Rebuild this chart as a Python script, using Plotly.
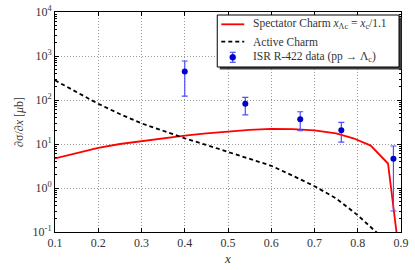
import plotly.graph_objects as go

# Spectator charm curve
spec_x = [0.1, 0.15, 0.2, 0.25, 0.3, 0.35, 0.4, 0.45, 0.5, 0.55, 0.6, 0.65, 0.7, 0.75, 0.79, 0.83, 0.87, 0.8915]
spec_y = [4.7, 6.3, 8.2, 10.0, 11.7, 13.5, 15.5, 17.5, 19.5, 21.0, 22.0, 21.8, 20.5, 17.5, 13.5, 9.2, 3.6, 0.07]

# Active charm curve
act_x = [0.1, 0.15, 0.2, 0.25, 0.3, 0.35, 0.4, 0.45, 0.5, 0.55, 0.6, 0.65, 0.7, 0.75, 0.8, 0.845]
act_y = [280, 150, 82, 48, 29.5, 20, 13.5, 9.5, 6.7, 4.6, 3.2, 1.9, 1.1, 0.58, 0.24, 0.095]

# ISR R-422 data
data_x = [0.4, 0.54, 0.667, 0.762, 0.8825]
data_y = [445, 82, 36.5, 20.5, 4.6]
data_hi = [770, 115, 54, 31, 9.0]
data_lo = [123, 46, 20, 11, 0.3]

x_ticks = [0.1, 0.2, 0.3, 0.4, 0.5, 0.6, 0.7, 0.8, 0.9]
y_exps = [-1, 0, 1, 2, 3, 4]

legend_names = [
    "Spectator Charm <i>x</i><sub>Λc</sub> = <i>x</i><sub>c</sub>/1.1",
    "Active Charm",
    "ISR R-422 data (pp → Λ<sub>c</sub>)",
]

err_plus = [h - v for h, v in zip(data_hi, data_y)]
err_minus = [v - l for l, v in zip(data_lo, data_y)]

font = "Liberation Serif, DejaVu Serif, serif"
RED, BLACK, BLUE, EBLUE = "#ff0000", "black", "#0000cc", "#4d4dff"

W, H = 415, 270
ML, MR, MT, MB = 54.5, 14, 12, 38
PW, PH = W - ML - MR, H - MT - MB


def px_x(px):
    return (px - ML) / PW


def px_y(py):
    return 1 - (py - MT) / PH


fig = go.Figure()
fig.add_trace(go.Scatter(
    x=spec_x, y=spec_y, mode="lines",
    line=dict(color=RED, width=1.8), name=legend_names[0], showlegend=False))
fig.add_trace(go.Scatter(
    x=act_x, y=act_y, mode="lines",
    line=dict(color=BLACK, width=1.8, dash="4px,3px"), name=legend_names[1], showlegend=False))
fig.add_trace(go.Scatter(
    x=data_x, y=data_y, mode="markers",
    marker=dict(color=BLUE, size=6),
    error_y=dict(type="data", symmetric=False, array=err_plus, arrayminus=err_minus,
                 color=EBLUE, thickness=1.2, width=3),
    name=legend_names[2], showlegend=False))

axis_common = dict(
    showline=True, linecolor="black", linewidth=1, mirror="ticks",
    ticks="inside", ticklen=4, tickcolor="black",
    showgrid=True, gridcolor="#9a9a9a", griddash="1px,2px", gridwidth=1,
    zeroline=False, automargin=False,
    tickfont=dict(family=font, size=12, color="#333333"),
)

fig.update_xaxes(
    range=[0.1, 0.9], tickvals=x_ticks, ticktext=[f"{v:.1f}" for v in x_ticks],
    title=dict(text="<i>x</i>", font=dict(family=font, size=13, color="#333333"), standoff=4),
    **axis_common)
fig.update_yaxes(
    type="log", range=[-1, 4],
    tickvals=[10.0 ** e for e in y_exps],
    ticktext=[f"10<sup>{e}</sup>" for e in y_exps],
    minor=dict(ticks="inside", ticklen=2, tickcolor="black", dtick="D1", showgrid=False),
    title=dict(text="∂σ/∂<i>x</i> [<i>μ</i>b]", font=dict(family=font, size=12, color="#333333"), standoff=6),
    **axis_common)

# ---- legend box (shadow + frame) ----
fig.add_shape(type="rect", xref="paper", yref="paper",
              x0=px_x(219.5), x1=px_x(401.5), y0=px_y(69.5), y1=px_y(17.5),
              fillcolor="#404040", line=dict(width=0), layer="above")
fig.add_shape(type="rect", xref="paper", yref="paper",
              x0=px_x(217), x1=px_x(399), y0=px_y(67), y1=px_y(15),
              fillcolor="white", line=dict(color="black", width=1), layer="above")

row_y = [24.3, 41.7, 57.3]
# legend samples
fig.add_shape(type="line", xref="paper", yref="paper",
              x0=px_x(221), x1=px_x(244), y0=px_y(row_y[0]), y1=px_y(row_y[0]),
              line=dict(color=RED, width=1.8), layer="above")
fig.add_shape(type="line", xref="paper", yref="paper",
              x0=px_x(221), x1=px_x(244), y0=px_y(row_y[1]), y1=px_y(row_y[1]),
              line=dict(color=BLACK, width=1.8, dash="4px,3px"), layer="above")
cx = 232.5
fig.add_shape(type="line", xref="paper", yref="paper",
              x0=px_x(cx), x1=px_x(cx), y0=px_y(row_y[2] - 5), y1=px_y(row_y[2] + 5),
              line=dict(color=EBLUE, width=1.2), layer="above")
for dy in (-5, 5):
    fig.add_shape(type="line", xref="paper", yref="paper",
                  x0=px_x(cx - 3), x1=px_x(cx + 3), y0=px_y(row_y[2] + dy), y1=px_y(row_y[2] + dy),
                  line=dict(color=EBLUE, width=1.2), layer="above")
fig.add_shape(type="circle", xref="paper", yref="paper",
              x0=px_x(cx - 3), x1=px_x(cx + 3), y0=px_y(row_y[2] + 3), y1=px_y(row_y[2] - 3),
              fillcolor=BLUE, line=dict(color=BLUE, width=0.5), layer="above")

for name, ry in zip(legend_names, row_y):
    fig.add_annotation(text=name, xref="paper", yref="paper",
                       x=px_x(251), y=px_y(ry), xanchor="left", yanchor="middle",
                       showarrow=False, font=dict(family=font, size=11.5, color="#333333"))

fig.update_layout(
    width=W, height=H,
    margin=dict(l=ML, r=MR, t=MT, b=MB, autoexpand=False),
    plot_bgcolor="white", paper_bgcolor="white",
    font=dict(family=font, size=11, color="#333333"),
    showlegend=False,
)

fig.write_html("out.html", post_script="document.body.style.margin='0';",
               config={"displayModeBar": False})
